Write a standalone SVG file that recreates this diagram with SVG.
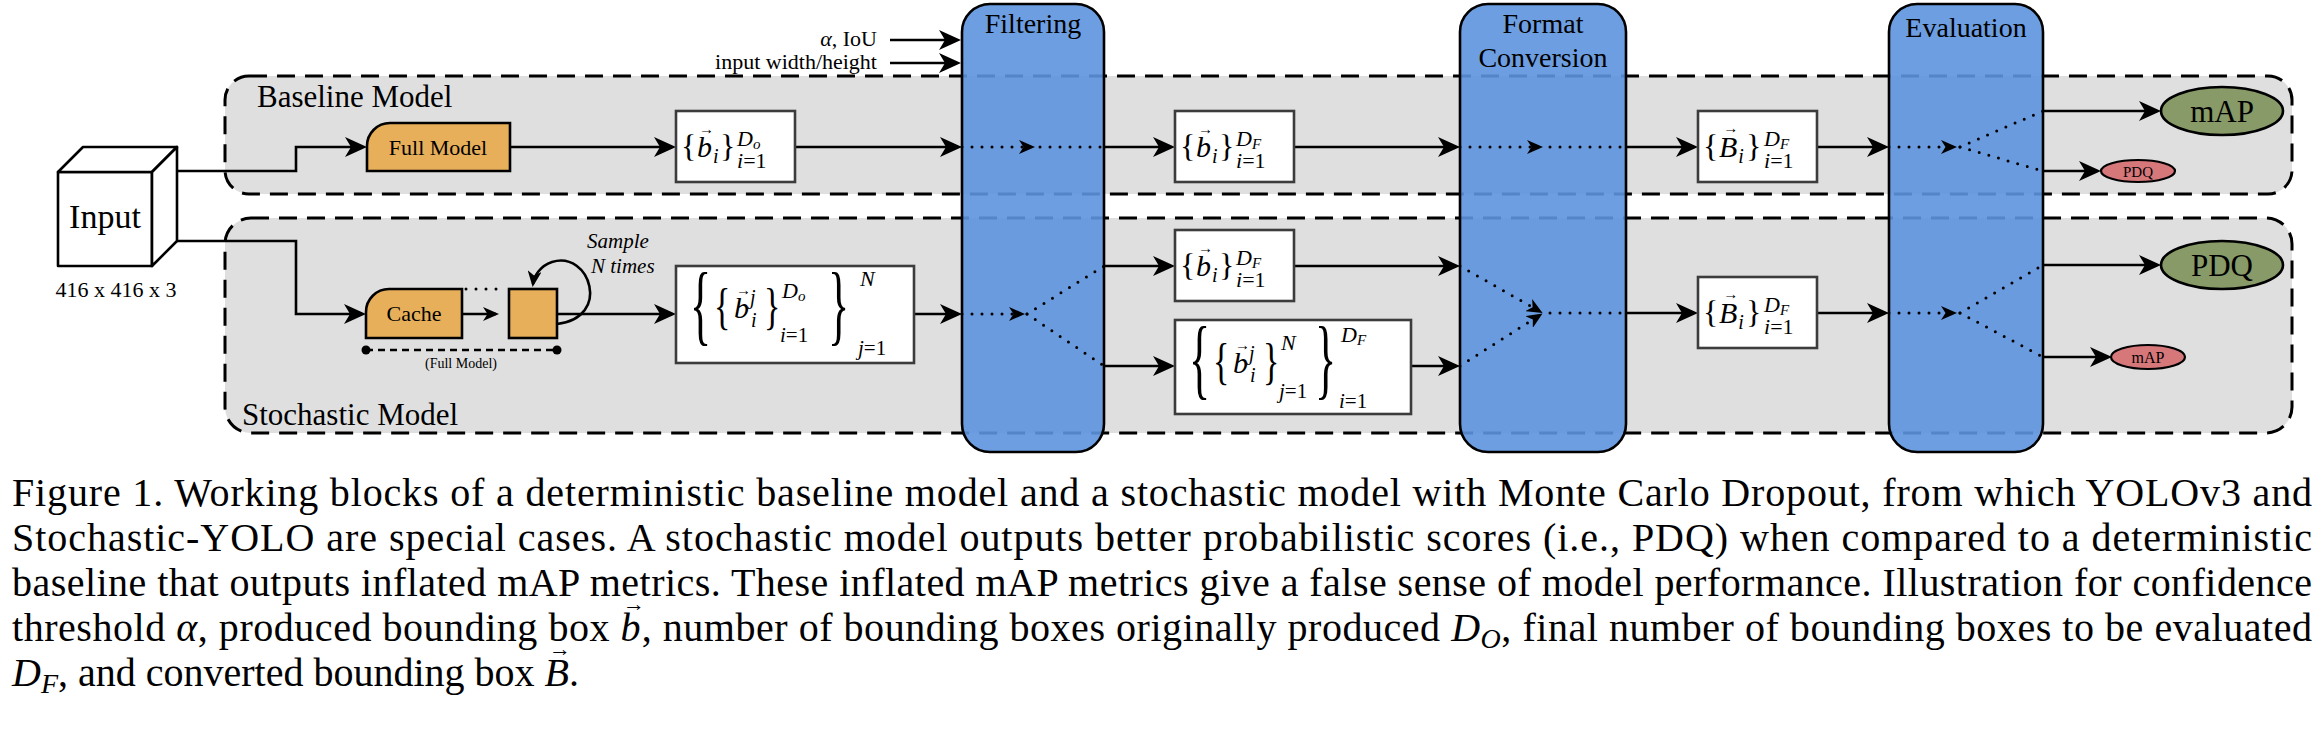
<svg xmlns="http://www.w3.org/2000/svg" width="2324" height="732" viewBox="0 0 2324 732">
<defs>
<style>
.t{font-family:'Liberation Serif','Times New Roman',serif;fill:#000}
.i{font-style:italic}
.v{font-style:normal;font-size:15px}
.grp{fill:#dfdfdf;stroke:#000;stroke-width:3;stroke-dasharray:18 10}
.bar{fill:#5d93de;fill-opacity:0.9;stroke:#000;stroke-width:2.6}
.mb{fill:#fff;stroke:#3c3c3c;stroke-width:2.6}
.org{fill:#e8af5a;stroke:#000;stroke-width:2.6}
.cube{fill:#fff;stroke:#000;stroke-width:2.6;stroke-linejoin:round}
.cn{fill:none;stroke:#000;stroke-width:2.6}
.dt{fill:none;stroke:#000;stroke-width:3;stroke-dasharray:0 10;stroke-linecap:round}
.grn{fill:#879a68;stroke:#000;stroke-width:2.6}
.red{fill:#d6777a;stroke:#000;stroke-width:2.2}
.cap{font-family:'Liberation Serif','Times New Roman',serif;font-size:40px;fill:#000}
.cv{font-style:normal;font-size:22px}
</style>
<marker id="ar" viewBox="0 0 22 20" refX="18" refY="10" markerWidth="22" markerHeight="20" markerUnits="userSpaceOnUse" orient="auto"><path d="M22,10 L0,0 L6,10 L0,20 Z" fill="#000"/></marker>
<marker id="as" viewBox="0 0 16 14" refX="13" refY="7" markerWidth="16" markerHeight="14" markerUnits="userSpaceOnUse" orient="auto"><path d="M16,7 L0,0 L4.5,7 L0,14 Z" fill="#000"/></marker>
</defs>

<g id="baseline-model">
<rect class="grp" x="225" y="76" width="2067" height="118" rx="24"/>
<text class="t" x="257" y="107" font-size="31">Baseline Model</text>
</g>
<g id="stochastic-model">
<rect class="grp" x="225" y="218" width="2067" height="215" rx="26"/>
<text class="t" x="242" y="425" font-size="31">Stochastic Model</text>
</g>

<g id="filtering">
<rect class="bar" x="962" y="4" width="142" height="448" rx="28"/>
<text class="t" x="1033" y="33" font-size="28" text-anchor="middle">Filtering</text>
</g>
<g id="format-conversion">
<rect class="bar" x="1460" y="4" width="166" height="448" rx="28"/>
<text class="t" x="1543" y="33" font-size="28" text-anchor="middle">Format</text>
<text class="t" x="1543" y="67" font-size="28" text-anchor="middle">Conversion</text>
</g>
<g id="evaluation">
<rect class="bar" x="1889" y="4" width="154" height="448" rx="28"/>
<text class="t" x="1966" y="37" font-size="28" text-anchor="middle">Evaluation</text>
</g>

<g id="input">
<rect class="cube" x="58" y="172" width="94" height="94"/>
<path class="cube" d="M58,172 L83,147 H177 L152,172 Z"/>
<path class="cube" d="M152,172 L177,147 V241 L152,266 Z"/>
<text class="t" x="105" y="228" font-size="34" text-anchor="middle">Input</text>
<text class="t" x="116" y="297" font-size="22" text-anchor="middle">416 x 416 x 3</text>
</g>

<g id="filter-params">
<text class="t" x="877" y="46" font-size="22" text-anchor="end"><tspan class="i">α</tspan>, IoU</text>
<text class="t" x="877" y="69" font-size="22" text-anchor="end">input width/height</text>
</g>

<g id="connectors">
<path class="cn" d="M890,40 H957" marker-end="url(#ar)"/>
<path class="cn" d="M890,63 H957" marker-end="url(#ar)"/>
<path class="cn" d="M177,171 H296 V147 H363" marker-end="url(#ar)"/>
<path class="cn" d="M510,147 H672" marker-end="url(#ar)"/>
<path class="cn" d="M795,147 H958" marker-end="url(#ar)"/>
<path class="dt" d="M962,147 H1032" marker-end="url(#as)"/>
<path class="dt" d="M1040,147 H1104"/>
<path class="cn" d="M1104,147 H1171" marker-end="url(#ar)"/>
<path class="cn" d="M1294,147 H1456" marker-end="url(#ar)"/>
<path class="dt" d="M1460,147 H1540" marker-end="url(#as)"/>
<path class="dt" d="M1550,147 H1626"/>
<path class="cn" d="M1626,147 H1694" marker-end="url(#ar)"/>
<path class="cn" d="M1817,147 H1885" marker-end="url(#ar)"/>
<path class="dt" d="M1889,147 H1954" marker-end="url(#as)"/>
<path class="dt" d="M1960,147 L2043,111"/>
<path class="dt" d="M1960,147 L2043,171"/>
<path class="cn" d="M2043,111 H2157" marker-end="url(#ar)"/>
<path class="cn" d="M2043,171 H2097" marker-end="url(#ar)"/>

<path class="cn" d="M177,241 H296 V314 H362" marker-end="url(#ar)"/>
<path class="cn" d="M462,314 H496" marker-end="url(#as)"/>
<path class="dt" d="M466,289 H506"/>
<path class="cn" d="M557,324 C612,318 590,250 552,262 C540,266 534,276 533,284" marker-end="url(#as)"/>
<path class="cn" d="M557,314 H672" marker-end="url(#ar)"/>
<path class="cn" d="M914,314 H958" marker-end="url(#ar)"/>
<path class="dt" d="M962,314 H1022" marker-end="url(#as)"/>
<path class="dt" d="M1027,314 L1104,266"/>
<path class="dt" d="M1027,314 L1104,366"/>
<path class="cn" d="M1104,266 H1171" marker-end="url(#ar)"/>
<path class="cn" d="M1104,366 H1171" marker-end="url(#ar)"/>
<path class="cn" d="M1294,266 H1456" marker-end="url(#ar)"/>
<path class="cn" d="M1411,366 H1456" marker-end="url(#ar)"/>
<path class="dt" d="M1460,266 L1540,311.5" marker-end="url(#as)"/>
<path class="dt" d="M1460,366 L1540,315" marker-end="url(#as)"/>
<path class="dt" d="M1550,313 H1626"/>
<path class="cn" d="M1626,313 H1694" marker-end="url(#ar)"/>
<path class="cn" d="M1817,313 H1885" marker-end="url(#ar)"/>
<path class="dt" d="M1889,313 H1954" marker-end="url(#as)"/>
<path class="dt" d="M1960,313 L2043,265"/>
<path class="dt" d="M1960,313 L2043,357"/>
<path class="cn" d="M2043,265 H2157" marker-end="url(#ar)"/>
<path class="cn" d="M2043,357 H2108" marker-end="url(#ar)"/>
</g>

<g id="full-model">
<path class="org" d="M367,171 V146 A23,23 0 0 1 390,123 H510 V171 Z"/>
<text class="t" x="438" y="155" font-size="22" text-anchor="middle">Full Model</text>
</g>

<g id="cache">
<path class="org" d="M366,338 V312 A23,23 0 0 1 389,289 H462 V338 Z"/>
<text class="t" x="414" y="321" font-size="22" text-anchor="middle">Cache</text>
</g>
<g id="sampled-layer">
<rect class="org" x="509" y="289" width="48" height="49"/>
<text class="t i" x="587" y="248" font-size="21">Sample</text>
<text class="t i" x="591" y="273" font-size="21">N times</text>
</g>
<g id="full-model-span">
<path d="M366,350 H557" fill="none" stroke="#000" stroke-width="2.4" stroke-dasharray="7 5"/>
<circle cx="366" cy="350" r="4.5" fill="#000"/>
<circle cx="557" cy="350" r="4.5" fill="#000"/>
<text class="t" x="461" y="368" font-size="14" text-anchor="middle">(Full Model)</text>
</g>

<g id="boxes-do" transform="translate(676,111)">
<rect class="mb" width="119" height="71"/>
<text class="t" x="5" y="46" font-size="32">{</text>
<text class="t i" x="21" y="46" font-size="30">b<tspan class="v" dx="-13" dy="-23">→</tspan><tspan font-size="20" dx="-1" dy="29">i</tspan></text>
<text class="t" x="44" y="46" font-size="32">}</text>
<text class="t i" x="61" y="35" font-size="22">D<tspan font-size="15" dy="3">o</tspan></text>
<text class="t" x="61" y="57" font-size="22"><tspan class="i">i</tspan>=1</text>
</g>

<g id="boxes-df-baseline" transform="translate(1175,111)">
<rect class="mb" width="119" height="71"/>
<text class="t" x="5" y="46" font-size="32">{</text>
<text class="t i" x="21" y="46" font-size="30">b<tspan class="v" dx="-13" dy="-23">→</tspan><tspan font-size="20" dx="-1" dy="29">i</tspan></text>
<text class="t" x="44" y="46" font-size="32">}</text>
<text class="t i" x="61" y="35" font-size="22">D<tspan font-size="15" dy="3">F</tspan></text>
<text class="t" x="61" y="57" font-size="22"><tspan class="i">i</tspan>=1</text>
</g>

<g id="boxes-df-stochastic" transform="translate(1175,230)">
<rect class="mb" width="119" height="71"/>
<text class="t" x="5" y="46" font-size="32">{</text>
<text class="t i" x="21" y="46" font-size="30">b<tspan class="v" dx="-13" dy="-23">→</tspan><tspan font-size="20" dx="-1" dy="29">i</tspan></text>
<text class="t" x="44" y="46" font-size="32">}</text>
<text class="t i" x="61" y="35" font-size="22">D<tspan font-size="15" dy="3">F</tspan></text>
<text class="t" x="61" y="57" font-size="22"><tspan class="i">i</tspan>=1</text>
</g>

<g id="converted-baseline" transform="translate(1698,111)">
<rect class="mb" width="119" height="71"/>
<text class="t" x="5" y="46" font-size="32">{</text>
<text class="t i" x="21" y="46" font-size="30">B<tspan class="v" dx="-14" dy="-24">→</tspan><tspan font-size="20" dx="0" dy="30">i</tspan></text>
<text class="t" x="48" y="46" font-size="32">}</text>
<text class="t i" x="66" y="35" font-size="22">D<tspan font-size="15" dy="3">F</tspan></text>
<text class="t" x="66" y="57" font-size="22"><tspan class="i">i</tspan>=1</text>
</g>

<g id="converted-stochastic" transform="translate(1698,277)">
<rect class="mb" width="119" height="71"/>
<text class="t" x="5" y="46" font-size="32">{</text>
<text class="t i" x="21" y="46" font-size="30">B<tspan class="v" dx="-14" dy="-24">→</tspan><tspan font-size="20" dx="0" dy="30">i</tspan></text>
<text class="t" x="48" y="46" font-size="32">}</text>
<text class="t i" x="66" y="35" font-size="22">D<tspan font-size="15" dy="3">F</tspan></text>
<text class="t" x="66" y="57" font-size="22"><tspan class="i">i</tspan>=1</text>
</g>

<g id="samples-do" transform="translate(676,266)">
<rect class="mb" width="238" height="97"/>
<text class="t" font-size="44" transform="translate(14,68) scale(1,2)">{</text>
<text class="t" font-size="34" transform="translate(38,57) scale(1,1.5)">{</text>
<text class="t i" x="58" y="52" font-size="30">b<tspan class="v" dx="-13" dy="-23">→</tspan><tspan font-size="20" dx="-1" dy="9">j</tspan></text>
<text class="t i" x="75" y="61" font-size="20">i</text>
<text class="t" font-size="34" transform="translate(88,57) scale(1,1.5)">}</text>
<text class="t i" x="106" y="32" font-size="22">D<tspan font-size="15" dy="3">o</tspan></text>
<text class="t" x="104" y="76" font-size="21"><tspan class="i">i</tspan>=1</text>
<text class="t" font-size="44" transform="translate(152,68) scale(1,2)">}</text>
<text class="t i" x="184" y="20" font-size="22">N</text>
<text class="t" x="182" y="89" font-size="21"><tspan class="i">j</tspan>=1</text>
</g>

<g id="samples-df" transform="translate(1175,320)">
<rect class="mb" width="236" height="94"/>
<text class="t" font-size="44" transform="translate(14,68) scale(1,2)">{</text>
<text class="t" font-size="34" transform="translate(38,58) scale(1,1.5)">{</text>
<text class="t i" x="58" y="53" font-size="30">b<tspan class="v" dx="-13" dy="-23">→</tspan><tspan font-size="20" dx="-1" dy="10">j</tspan></text>
<text class="t i" x="75" y="62" font-size="20">i</text>
<text class="t" font-size="34" transform="translate(88,58) scale(1,1.5)">}</text>
<text class="t i" x="106" y="30" font-size="22">N</text>
<text class="t" x="104" y="78" font-size="21"><tspan class="i">j</tspan>=1</text>
<text class="t" font-size="44" transform="translate(140,68) scale(1,2)">}</text>
<text class="t i" x="166" y="22" font-size="22">D<tspan font-size="15" dy="3">F</tspan></text>
<text class="t" x="164" y="88" font-size="21"><tspan class="i">i</tspan>=1</text>
</g>

<g id="map-baseline">
<ellipse class="grn" cx="2222" cy="111" rx="61" ry="24"/>
<text class="t" x="2222" y="122" font-size="31" text-anchor="middle">mAP</text>
</g>
<g id="pdq-baseline">
<ellipse class="red" cx="2138" cy="171" rx="37" ry="11"/>
<text class="t" x="2138" y="177" font-size="15" text-anchor="middle">PDQ</text>
</g>
<g id="pdq-stochastic">
<ellipse class="grn" cx="2222" cy="265" rx="61" ry="24"/>
<text class="t" x="2222" y="276" font-size="31" text-anchor="middle">PDQ</text>
</g>
<g id="map-stochastic">
<ellipse class="red" cx="2148" cy="357" rx="37" ry="12"/>
<text class="t" x="2148" y="363" font-size="16" text-anchor="middle">mAP</text>
</g>

<g id="caption">
<text class="cap" x="12" y="506" textLength="2300" lengthAdjust="spacing">Figure 1. Working blocks of a deterministic baseline model and a stochastic model with Monte Carlo Dropout, from which YOLOv3 and</text>
<text class="cap" x="12" y="551" textLength="2300" lengthAdjust="spacing">Stochastic-YOLO are special cases. A stochastic model outputs better probabilistic scores (i.e., PDQ) when compared to a deterministic</text>
<text class="cap" x="12" y="596" textLength="2300" lengthAdjust="spacing">baseline that outputs inflated mAP metrics. These inflated mAP metrics give a false sense of model performance. Illustration for confidence</text>
<text class="cap" x="12" y="641" textLength="2300" lengthAdjust="spacing">threshold <tspan class="i">α</tspan>, produced bounding box <tspan class="i">b</tspan><tspan class="cv" dx="-18" dy="-30">→</tspan><tspan dx="-4" dy="30">, number of bounding boxes originally produced </tspan><tspan class="i">D</tspan><tspan class="i" style="font-size:28px" dy="7">O</tspan><tspan dy="-7">, final number of bounding boxes to be evaluated</tspan></text>
<text class="cap" x="12" y="686"><tspan class="i">D</tspan><tspan class="i" style="font-size:28px" dy="7">F</tspan><tspan dy="-7">, and converted bounding box </tspan><tspan class="i">B</tspan><tspan class="cv" dx="-20" dy="-30">→</tspan><tspan dx="-2" dy="30">.</tspan></text>
</g>
</svg>
